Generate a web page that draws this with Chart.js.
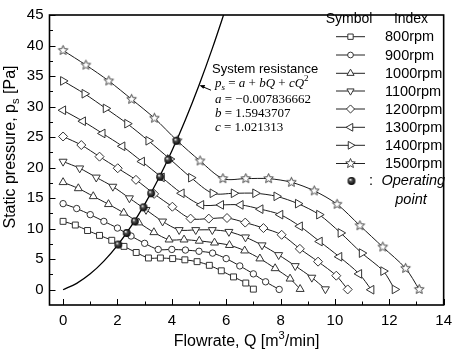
<!DOCTYPE html>
<html><head><meta charset="utf-8">
<script src="https://cdn.jsdelivr.net/npm/chart.js@4.4.0/dist/chart.umd.min.js"></script>
<style>html,body{margin:0;padding:0;background:#fff}canvas{display:block}</style>
</head><body>
<canvas id="c" width="459" height="353"></canvas>
<script>
// ---- data ----
const seriesNames = ['800rpm','900rpm','1000rpm','1100rpm','1200rpm','1300rpm','1400rpm','1500rpm'];
const q800  = [0,0.45,0.9,1.34,1.79,2.24,2.69,3.14,3.58,4.03,4.48,4.93,5.38,5.82,6.27,6.72,7.0];
const p800  = [11.2,10.6,9.7,8.9,8.1,7.1,6.1,5.2,5.2,5.1,4.9,4.6,4.0,3.1,2.1,1.1,0.1];
const q900  = [0,0.5,1.0,1.5,2.0,2.5,3.0,3.5,4.0,4.5,5.0,5.5,6.0,6.5,7.0,7.45,7.95];
const p900  = [14.1,13.3,12.3,11.2,10.1,8.8,7.6,6.6,6.6,6.5,6.3,6.0,5.1,3.9,2.6,1.3,0.05];
const q1000 = [0,0.56,1.11,1.67,2.23,2.78,3.34,3.9,4.45,5.01,5.57,6.12,6.68,7.24,7.8,8.35,8.72];
const p1000 = [17.6,16.6,15.3,14.0,12.6,11.0,9.4,8.2,8.2,8.0,7.7,7.3,6.4,5.1,3.5,1.8,0.1];
const q1100 = [0,0.61,1.22,1.83,2.44,3.05,3.66,4.27,4.88,5.49,6.1,6.71,7.32,7.93,8.54,9.15,9.65];
const p1100 = [21.0,19.9,18.4,16.9,15.0,13.1,11.2,9.8,9.8,9.8,9.5,8.6,7.3,5.7,3.9,2.0,0.1];
const q1200 = [0,0.67,1.34,2.01,2.68,3.35,4.02,4.69,5.36,6.03,6.7,7.37,8.04,8.71,9.38,10.05,10.47];
const p1200 = [25.1,23.7,21.8,19.9,18.0,15.7,13.6,11.65,11.65,11.75,11.0,10.1,9.0,6.7,4.6,2.3,0.05];
const q1300 = [0,0.73,1.45,2.18,2.9,3.63,4.36,5.08,5.81,6.53,7.26,7.99,8.71,9.44,10.16,10.89,11.34];
const p1300 = [29.4,27.6,25.6,23.5,21.0,18.4,15.8,13.9,13.9,13.9,13.2,12.3,10.4,7.9,5.4,2.6,0.0];
const q1400 = [0,0.79,1.57,2.36,3.14,3.93,4.71,5.5,6.28,7.07,7.85,8.64,9.42,10.21,10.99,11.78,12.2];
const p1400 = [34.2,32.1,29.7,27.2,24.4,21.4,18.35,15.8,15.8,15.8,15.3,14.1,12.3,9.3,6.0,3.05,0.05];
const q1500 = [0,0.84,1.68,2.52,3.36,4.2,5.04,5.88,6.72,7.56,8.4,9.24,10.08,10.92,11.76,12.6,13.1];
const p1500 = [39.2,36.8,34.2,31.2,28.1,24.4,21.1,18.2,18.2,18.2,17.6,16.2,14.0,10.5,7.0,3.5,0.05];
const opQ = [2.03,2.34,2.64,2.96,3.24,3.57,3.87,4.17];
const opP = [7.4,9.3,11.2,13.5,15.8,18.5,21.3,24.4];
const sysQ = [0,0.5,1,1.5,2,2.5,3,3.5,4,4.5,5,5.5,6];
const sysP = [0,1.05,2.61,4.69,7.27,10.37,13.97,18.09,22.72,27.85,33.5,39.66,46.3];
const xTicks = [0,2,4,6,8,10,12,14];
const yTicks = [0,5,10,15,20,25,30,35,40,45];
const xMinor = [1,3,5,7,9,11,13];
const yMinor = [2.5,7.5,12.5,17.5,22.5,27.5,32.5,37.5,42.5];
const coefA = '\u22120.007836662', coefB = '1.5943707', coefC = '1.021313';

// ---- marker images ----
function starCanvas(r){
  const s = Math.ceil(r*2+3), c = document.createElement('canvas'); c.width = s; c.height = s;
  const g = c.getContext('2d'), cx = s/2, cy = s/2;
  g.beginPath();
  for (let i=0;i<10;i++){ const rr = i%2 ? r*0.45 : r; const a = -Math.PI/2 + i*Math.PI/5; g.lineTo(cx+rr*Math.cos(a), cy+rr*Math.sin(a)); }
  g.closePath(); g.fillStyle='#fff'; g.fill(); g.strokeStyle='#333'; g.lineWidth=0.9; g.stroke();
  return c;
}
function sphereCanvas(r){
  const s = Math.ceil(r*2+2), c = document.createElement('canvas'); c.width = s; c.height = s;
  const g = c.getContext('2d'), cx = s/2, cy = s/2;
  const grd = g.createRadialGradient(cx-r*0.3, cy-r*0.35, 0.3, cx, cy, r);
  grd.addColorStop(0,'#fff'); grd.addColorStop(0.3,'#555'); grd.addColorStop(1,'#000');
  g.beginPath(); g.arc(cx,cy,r,0,Math.PI*2); g.fillStyle=grd; g.fill();
  return c;
}
const star = starCanvas(5);
const sphere = sphereCanvas(3.9);
const styles = [
  {ps:'rect',r:4.2,rot:0},{ps:'circle',r:3.2,rot:0},{ps:'triangle',r:4.6,rot:0},{ps:'triangle',r:4.6,rot:180},
  {ps:'rectRot',r:4.5,rot:0},{ps:'triangle',r:5,rot:270},{ps:'triangle',r:5,rot:90},{ps:star,r:5,rot:0}
];
const Qs = [q800,q900,q1000,q1100,q1200,q1300,q1400,q1500];
const Ps = [p800,p900,p1000,p1100,p1200,p1300,p1400,p1500];
const zip = (a,b)=>a.map((v,i)=>({x:v,y:b[i]}));

const datasets = [{
  label:'Operating point', data:zip(opQ,opP), showLine:false, pointStyle:sphere, pointRadius:4
}];
Qs.forEach((q,i)=>datasets.push({
  label:seriesNames[i], data:zip(q,Ps[i]), showLine:true, borderColor:'#1a1a1a', borderWidth:1,
  tension:0.3, pointStyle:styles[i].ps, pointRadius:styles[i].r, pointRotation:styles[i].rot,
  pointBackgroundColor:'#fff', pointBorderColor:'#333', pointBorderWidth:1
}));
datasets.push({label:'System resistance', data:zip(sysQ,sysP), showLine:true, borderColor:'#000',
  borderWidth:1.3, pointRadius:0, cubicInterpolationMode:'monotone'});

const SANS = 'Liberation Sans, Arial, sans-serif';
const SERIF = 'Liberation Serif, Times New Roman, serif';

function rich(ctx, segs, x, y, size, family){
  let cx = x;
  segs.forEach(s=>{
    const sz = (s.sub||s.sup) ? size*0.7 : size;
    ctx.font = (s.it?'italic ':'') + sz + 'px ' + family;
    const dy = s.sub ? size*0.28 : (s.sup ? -size*0.38 : 0);
    ctx.fillText(s.t, cx, y+dy);
    cx += ctx.measureText(s.t).width;
  });
  return cx - x;
}
function richWidth(ctx, segs, size, family){
  let w=0; segs.forEach(s=>{const sz=(s.sub||s.sup)?size*0.7:size; ctx.font=(s.it?'italic ':'')+sz+'px '+family; w+=ctx.measureText(s.t).width;}); return w;
}

const deco = {
  id:'deco',
  afterDraw(chart){
    const ctx = chart.ctx, a = chart.chartArea, xs = chart.scales.x, ys = chart.scales.y;
    ctx.save();
    // ticks inward
    ctx.strokeStyle='#000'; ctx.lineWidth=1;
    ctx.beginPath();
    xTicks.forEach(v=>{const px=Math.round(xs.getPixelForValue(v))+0.5; ctx.moveTo(px,a.bottom); ctx.lineTo(px,a.bottom-6);});
    xMinor.forEach(v=>{const px=Math.round(xs.getPixelForValue(v))+0.5; ctx.moveTo(px,a.bottom); ctx.lineTo(px,a.bottom-3.5);});
    yTicks.forEach(v=>{const py=Math.round(ys.getPixelForValue(v))+0.5; ctx.moveTo(a.left,py); ctx.lineTo(a.left+6,py);});
    yMinor.forEach(v=>{const py=Math.round(ys.getPixelForValue(v))+0.5; ctx.moveTo(a.left,py); ctx.lineTo(a.left+3.5,py);});
    ctx.stroke();
    // frame
    ctx.lineWidth=1.6; ctx.strokeRect(a.left, a.top, a.right-a.left, a.bottom-a.top);
    // axis titles
    ctx.fillStyle='#000'; ctx.textBaseline='middle'; ctx.textAlign='left';
    const xt=[{t:'Flowrate, Q [m'},{t:'3',sup:true},{t:'/min]'}];
    const wx=richWidth(ctx,xt,16,SANS);
    rich(ctx,xt,(a.left+a.right)/2-wx/2,342,16,SANS);
    const yt=[{t:'Static pressure, p'},{t:'s',sub:true},{t:' [Pa]'}];
    const wy=richWidth(ctx,yt,16,SANS);
    ctx.save(); ctx.translate(11,147); ctx.rotate(-Math.PI/2);
    rich(ctx,yt,-wy/2,0,16,SANS); ctx.restore();
    // legend
    ctx.font='14px '+SANS; ctx.textAlign='center';
    ctx.fillText('Symbol',349,19.5); ctx.fillText('Index',411,19.5);
    ctx.textAlign='left';
    const rows=[36.7,55,73.3,91,109,127.3,145.3,163.5];
    seriesNames.forEach((n,i)=>{
      const y=rows[i];
      ctx.strokeStyle='#222'; ctx.lineWidth=1;
      ctx.beginPath(); ctx.moveTo(336,y); ctx.lineTo(365,y); ctx.stroke();
      ctx.fillStyle='#fff'; ctx.strokeStyle='#333';
      Chart.helpers.drawPoint(ctx,{pointStyle:styles[i].ps,rotation:styles[i].rot,radius:styles[i].r*0.9,borderWidth:1},350.5,y);
      ctx.fillStyle='#000'; ctx.font='14.5px '+SANS; ctx.fillText(n,385,y+0.5);
    });
    Chart.helpers.drawPoint(ctx,{pointStyle:sphere,rotation:0,radius:4,borderWidth:0},351.5,181);
    ctx.fillStyle='#000'; ctx.font='14.5px '+SANS; ctx.fillText(':',369,181);
    ctx.font='italic 14.5px '+SANS; ctx.fillText('Operating',381.5,181);
    ctx.textAlign='center'; ctx.fillText('point',411,199.5);
    // annotation
    ctx.textAlign='left';
    ctx.font='13px '+SANS; ctx.fillText('System resistance',212,69.5);
    const tx=xs.getPixelForValue(5.0), ty=ys.getPixelForValue(33.5);
    ctx.strokeStyle='#000'; ctx.lineWidth=1;
    ctx.beginPath(); ctx.moveTo(tx+12,ty+5); ctx.lineTo(tx+2,ty+0.8); ctx.stroke();
    ctx.beginPath(); ctx.moveTo(tx+0.5,ty); ctx.lineTo(tx+6.2,ty-0.3); ctx.lineTo(tx+4.4,ty+3.6); ctx.closePath(); ctx.fill();
    const F=13;
    rich(ctx,[{t:'p',it:true},{t:'s',it:true,sub:true},{t:' = '},{t:'a',it:true},{t:' + '},{t:'bQ',it:true},{t:' + '},{t:'cQ',it:true},{t:'2',sup:true}],215,84,F,SERIF);
    rich(ctx,[{t:'a',it:true},{t:' = '+coefA}],215,99.5,F,SERIF);
    rich(ctx,[{t:'b',it:true},{t:' = '+coefB}],215,113.5,F,SERIF);
    rich(ctx,[{t:'c',it:true},{t:' = '+coefC}],215,128,F,SERIF);
    ctx.restore();
  }
};

new Chart(document.getElementById('c').getContext('2d'), {
  type:'scatter',
  data:{datasets},
  options:{
    responsive:false, animation:false, devicePixelRatio:1,
    layout:{padding:{top:5,right:9,left:0,bottom:0}},
    plugins:{legend:{display:false}, tooltip:{enabled:false}},
    scales:{
      x:{type:'linear', min:-0.5, max:14,
         grid:{display:false, drawTicks:false}, border:{display:false},
         ticks:{font:{family:SANS,size:15}, color:'#000', padding:7, autoSkip:false, maxRotation:0},
         afterBuildTicks:s=>{s.ticks=xTicks.map(v=>({value:v}));},
         afterFit:s=>{s.height=48;}},
      y:{type:'linear', min:-2.5, max:45,
         grid:{display:false, drawTicks:false}, border:{display:false},
         ticks:{font:{family:SANS,size:15}, color:'#000', padding:6, autoSkip:false},
         afterBuildTicks:s=>{s.ticks=yTicks.map(v=>({value:v}));},
         afterFit:s=>{s.width=49.5;}}
    }
  },
  plugins:[deco]
});
</script>
</body></html>
